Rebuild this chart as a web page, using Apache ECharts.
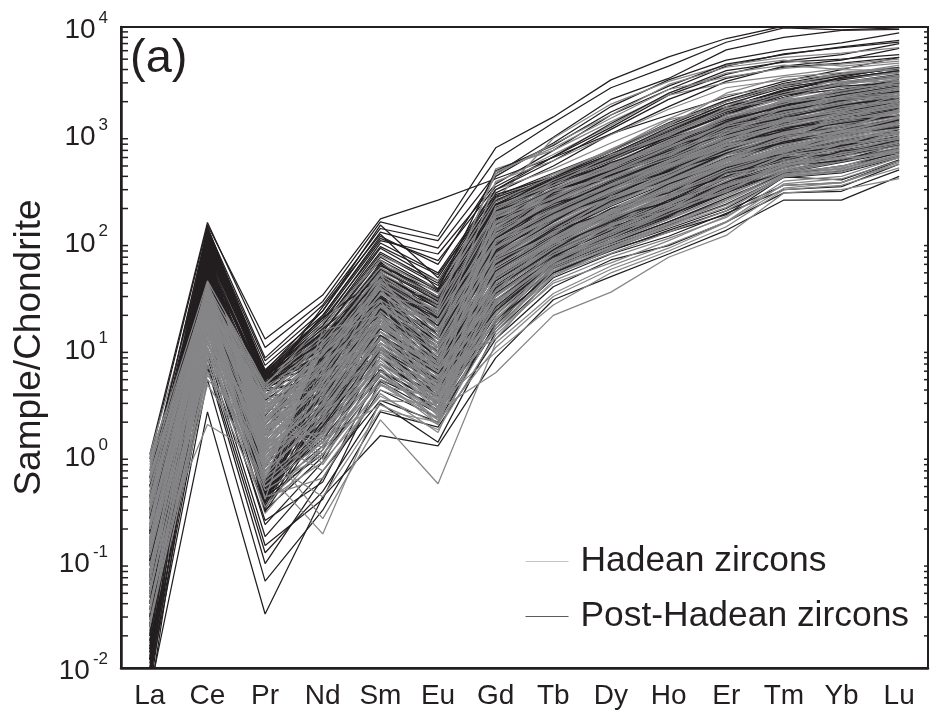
<!DOCTYPE html>
<html><head><meta charset="utf-8">
<style>html,body{margin:0;padding:0;background:#fff}#c{width:931px;height:720px}</style>
<script src="https://cdn.jsdelivr.net/npm/echarts@6/dist/echarts.min.js"></script>
</head><body><div id="c"></div>
<script>
const categories = ['La','Ce','Pr','Nd','Sm','Eu','Gd','Tb','Dy','Ho','Er','Tm','Yb','Lu'];
const minorTickValues = [2,3,4,5,6,7,8,9];
const decades = [0.01,0.1,1,10,100,1000];
const postHadean = [
[0.9,140,12,31,160,240,380,600,1000,1500,2200,3100,4000,5200],
[1.0,148,10,27,150,110,740,1440,3200,5250,7800,10200,11500,13000],
[0.6,130,8,25,130,100,570,1270,2700,4300,7200,9800,9400,9800],
[0.3,120,7.5,22,120,85,420,930,2100,3300,6100,8000,9300,9500],
[0.5,115,6.8,20,110,60,400,820,1800,3200,4900,6100,7100,8800],
[0.7,105,6.2,19,100,75,340,700,1500,2600,4300,5600,6400,7200],
[0.2,125,5.8,17,95,50,300,610,1150,2300,3600,4800,5500,7000],
[0.4,98,5.5,16,85,42,280,500,1000,1800,3100,4300,4900,6300],
[0.15,90,5.2,15,75,38,260,430,700,1270,2070,2970,3700,4200],
[0.35,85,5,14,70,35,240,400,680,1200,2000,2800,3500,4100],
[0.1,80,4.8,12,62,30,220,390,650,1100,1800,2500,3300,3900],
[0.25,75,4.5,11,55,28,200,360,600,1000,1700,2400,3000,3500],
[0.08,70,4.2,10,48,25,210,380,620,1050,1750,2600,3200,3800],
[0.3,66,4,9,44,20,180,340,560,950,1550,2200,2900,3400],
[0.05,62,3.6,8.5,40,18,170,300,500,850,1400,2000,2500,3000],
[0.12,58,3.2,7.6,36,16,150,270,470,800,1300,1900,2400,2900],
[0.06,55,2.8,7,33,22,140,250,420,720,1200,1700,2150,2600],
[0.18,50,2.5,6.5,30,14,125,230,400,690,1120,1600,2000,2500],
[0.04,48,2.2,6,27,13,110,210,360,600,1000,1450,1800,2200],
[0.09,45,2,5.5,24,12,100,190,330,550,930,1300,1700,2050],
[0.03,42,1.8,5,22,11,90,170,300,500,850,1200,1550,1900],
[0.07,40,1.5,4.6,20,10,85,160,280,470,800,1150,1450,1800],
[0.025,110,1.3,4.2,18,9,70,140,250,420,720,1000,1300,1600],
[0.02,95,1.2,3.8,16,8,62,130,230,390,660,950,1200,1500],
[0.015,88,1.1,3.4,15,7.2,55,115,210,350,600,850,1100,1400],
[0.045,78,1,3,14,6.5,50,105,190,320,550,790,1030,1300],
[0.013,72,0.9,2.8,12,6,45,95,175,290,500,720,950,1200],
[0.03,65,0.8,2.5,11,5.2,40,88,160,265,460,670,870,1100],
[0.011,60,0.7,2.2,10,4.8,35,80,145,240,420,620,800,1000],
[0.02,52,0.62,2,9,4.2,32,75,130,220,380,570,740,920],
[0.008,46,0.56,1.8,8,3.8,28,68,120,200,340,520,680,850],
[0.018,38,0.5,1.6,7,3.4,24,64,110,180,310,480,620,780],
[0.006,33,0.46,1.4,6.2,3,20,60,100,165,280,440,560,720],
[0.014,28,0.42,1.2,5.4,2.6,18,57,95,150,250,420,500,660],
[0.01,24,0.4,1,4.8,2.4,16,55,90,140,220,400,450,620],
[0.006,2.5,0.032,0.4,1.5,1.2,8,28,46,75,125,240,240,400],
[0.008,5,0.065,0.3,2.5,1.8,12,37,66,90,150,280,290,460],
[0.012,7,0.12,0.45,3,1.3,14,45,75,110,180,300,320,520],
[0.009,6.5,0.095,0.6,4,2.2,15,50,80,125,190,330,350,560],
[0.016,8,0.14,0.38,5,2.8,18,50,85,130,200,390,430,600],
[0.01,9,0.17,0.7,3.2,2,17,52,82,120,175,395,370,570],
[0.02,10,0.24,0.55,6,3,22,62,95,150,240,430,470,680],
[0.014,12,0.22,0.85,7,3.6,26,70,110,185,320,500,620,800],
[0.03,14,0.3,0.95,9,4,30,78,140,230,390,590,760,950],
[0.005,18,0.36,1.1,11,5,34,85,155,255,450,650,840,1050],
[0.04,100,0.5,1.3,13,5.5,42,98,180,300,520,760,980,1250],
[0.05,92,0.45,1.5,16,7,60,125,225,380,640,920,1180,1480],
[0.09,85,0.52,1.7,19,9,75,150,270,450,770,1100,1420,1750],
[0.13,74,0.42,1.9,22,10,88,175,310,530,900,1280,1620,2000],
[0.2,82,0.38,2.4,26,14,105,205,350,590,980,1420,1780,2150],
[0.28,68,0.48,3.2,30,16,130,240,410,700,1160,1650,2080,2550],
[0.38,60,0.6,4,35,20,155,280,480,820,1350,1960,2450,2950],
[0.6,57,0.75,5.5,40,24,190,350,590,980,1650,2350,2950,3450],
[0.22,52,5.6,12,45,26,215,375,640,1080,1780,2550,3250,3850],
[0.1,108,5.4,13,52,30,230,395,690,1220,2020,2850,3550,4050],
[0.07,118,5.1,10,58,33,195,355,590,1010,1680,2350,3050,3600],
[0.16,100,4.9,8,64,18,165,295,490,840,1380,1950,2550,3100],
[0.045,93,4.6,7,50,24,145,255,430,730,1210,1720,2200,2700],
[0.03,86,4.3,6,46,13,118,220,370,620,1030,1480,1850,2300],
[0.065,76,4.1,5,38,15,98,185,320,540,910,1320,1680,2100],
[0.024,69,3.9,5.2,28,11,82,155,270,460,780,1120,1430,1750],
[0.05,59,3.4,4.5,24,9,68,135,240,410,700,1010,1280,1620],
[0.017,54,3,3.5,20,7,52,110,200,335,580,830,1080,1360],
[0.035,47,2.6,3,17,6,44,92,170,285,490,710,930,1180],
[0.012,43,2.3,9,13,4.5,38,85,150,250,435,630,815,1040],
[0.028,39,1.9,11,10,3.5,30,76,125,210,355,530,700,870],
[0.012,35,1.6,13,8,3,26,66,115,190,325,500,650,810],
[0.19,31,1.35,15,6,2.5,23,62,105,170,290,455,580,740]
];
const postHadeanMixed = [
[0.11,135,5.9,18,88,48,270,395,640,1150,1900,2700,3300,3900],
[0.19,128,5.7,16,78,40,255,380,610,1020,1600,2300,2800,3000],
[0.08,122,5.3,14,66,34,235,370,580,930,1500,2500,3400,4200],
[0.3,112,5,12.5,60,29,215,350,520,900,1350,1800,2300,2700],
[0.14,104,4.7,11.5,54,27,205,320,540,780,1250,1650,2000,2300],
[0.06,96,4.4,10.5,50,23,190,290,450,760,1050,1900,2050,2400],
[0.1,89,0.55,9.8,47,21,175,300,410,640,1150,1500,1900,2100],
[0.04,83,0.5,9,43,19,160,240,440,690,980,1350,1600,2000],
[0.05,77,0.47,8.2,41,17,130,265,390,600,900,1250,1750,1950],
[0.03,71,0.44,7.4,37,15,120,210,345,580,860,1100,1500,1850],
[0.025,67,0.41,6.6,34,19,105,225,300,480,820,1050,1350,1700],
[0.02,63,0.38,5.8,31,12,95,180,315,440,700,1080,1250,1500],
[0.015,110,0.36,5,29,11,78,170,260,450,650,880,1350,1450],
[0.012,100,0.43,4.4,26,10,66,120,235,370,640,820,1000,1350],
[0.018,92,0.4,3.9,23,9,58,125,185,340,520,850,960,1200],
[0.022,84,0.37,3.3,21,8,48,100,200,280,480,660,1000,1150],
[0.009,70,0.35,2.9,18,7.5,42,90,150,270,400,640,760,1100],
[0.007,61,0.33,2.7,15,6.8,36,82,165,230,430,550,780,900],
[0.035,56,0.39,2.3,13,6.2,32,72,125,240,350,600,650,880],
[0.055,51,0.31,2.1,12,5.7,27,70,135,195,360,480,690,780],
[0.075,44,0.29,1.85,10,5,24,66,105,175,280,500,560,800],
[0.1,37,0.55,1.65,9.5,4.6,22,60,115,170,300,430,540,680],
[0.4,120,5.8,19,45,20,140,340,500,950,1500,2300,2600,3200],
[0.25,132,5.6,15,40,16,110,280,450,720,1300,1850,2300,2800],
[0.6,126,5.4,13.5,35,13,90,240,410,660,1200,1550,2100,2500],
[0.18,116,5.2,11,30,11,80,200,360,590,1100,1400,1850,2200],
[0.12,106,5,9.5,27,9,70,150,310,520,950,1300,1560,1900],
[0.09,101,4.8,8.5,23,8,60,130,260,460,750,1150,1300,1650],
[0.07,94,4.6,7.8,20,7,52,110,220,380,660,950,1150,1500],
[0.5,90,6,22,140,45,300,560,1100,2100,3300,4200,4600,5200],
[0.3,80,5,20,105,65,320,610,1250,2400,3900,4700,5000,5500],
[0.2,72,4.5,24,115,35,450,780,1600,2800,4500,5500,6500,7500]
];
const hadean = [
[1.0,70,5,14,60,36,250,420,680,1200,2400,3400,3750,4200],
[0.85,42,4.6,13,56,30,230,400,720,1240,2000,2900,3600,4100],
[0.7,40,4.2,12,52,28,240,910,1900,3100,4400,5200,5700,6400],
[0.6,38,4,11,50,26,420,800,1500,2900,4200,4900,4300,4800],
[0.9,37,3.6,10,46,24,350,640,1200,2400,3700,4400,4000,3900],
[0.55,36,3.3,9.5,44,22,200,370,610,1020,1720,2450,3050,3550],
[0.5,35,3,9,42,21,185,345,570,970,1600,2300,2850,3450],
[0.45,34,2.8,8.5,40,20,172,310,510,870,1430,2050,2550,3050],
[0.42,33,2.6,8,38,18,160,285,480,820,1340,1900,2400,2950],
[0.38,32,2.4,7.5,36,17,145,260,440,750,1240,1760,2250,2750],
[0.35,31,2.2,7,34,16,135,245,415,710,1170,1680,2100,2550],
[0.32,30,2,6.5,32,15,122,232,390,670,1100,1580,1980,2420],
[0.3,30,1.9,6,30,14,112,215,365,610,1020,1470,1830,2250],
[0.28,28,1.8,5.6,28,13,102,198,340,565,950,1350,1720,2100],
[0.26,27,1.7,5.2,26,12,94,178,310,515,870,1230,1580,1950],
[0.24,26,1.6,4.8,24,11,86,164,285,480,810,1160,1470,1830],
[0.22,25,1.5,4.5,22,10.5,78,150,265,445,755,1060,1370,1690],
[0.2,24,1.4,4.2,20,10,72,142,255,425,725,1020,1310,1620],
[0.18,23,1.3,4,19,9.5,64,132,235,395,670,960,1210,1520],
[0.17,22,1.2,3.7,18,9,58,120,215,360,610,870,1120,1420],
[0.16,21,1.1,3.5,17,8.5,54,110,198,330,565,810,1050,1330],
[0.15,20,1,3.3,16,8,48,100,182,305,525,745,975,1240],
[0.14,19,0.95,3.1,15,7.5,44,94,172,285,495,710,935,1180],
[0.13,18,0.9,2.9,14,7,40,90,162,270,465,680,880,1110],
[0.12,17,0.85,2.7,13,6.5,37,84,150,250,430,630,810,1020],
[0.11,16,0.8,2.5,12,6,33,78,136,225,385,575,750,930],
[0.1,15,0.75,2.3,11,5.6,30,72,124,205,345,525,690,860],
[0.09,14,0.7,2.1,10,5.2,27,66,114,190,320,495,640,800],
[0.08,13,0.65,1.9,9,4.8,24,62,106,172,290,460,585,745],
[0.07,12,0.6,1.7,8,4.4,21,60,100,160,270,435,550,700],
[0.06,11,0.55,1.5,7,4,20,56,92,145,240,410,480,640],
[0.05,10,0.5,1.3,6,3.6,17,48,76,120,190,395,440,610],
[0.045,9,0.48,1.1,5,3.2,14,40,62,100,170,330,350,540],
[0.04,8,0.46,1,4,2.6,5.8,20,33,70,112,280,300,380],
[0.03,4.5,0.7,0.18,3.2,3,9,25,50,80,135,300,330,480],
[0.035,5.5,1.2,0.25,2.1,0.53,11,32,58,92,150,340,380,560],
[0.1,1.9,0.9,0.4,2.6,2,10,30,54,85,148,310,350,520],
[0.028,6,0.32,1.4,2.9,1.7,13,42,70,105,165,360,400,600],
[0.05,7,0.36,0.85,3.5,1.9,16,46,84,135,205,410,470,640],
[0.07,9.5,0.4,0.6,4.5,2.1,19,54,88,142,230,420,500,690],
[0.09,12,0.28,1.2,5.5,2.4,22,58,98,158,260,450,560,720],
[0.12,15,0.55,1.6,7.5,2.7,26,64,108,178,300,480,610,770],
[0.16,18,0.68,2.2,8.5,3.1,28,70,118,195,330,510,665,830],
[0.2,22,0.78,2.8,9.5,3.4,31,74,128,215,365,550,720,890],
[0.27,26,0.88,3.4,10.5,3.7,35,82,142,235,400,600,780,970],
[0.33,30,1,4,12,4.2,39,90,158,260,445,640,830,1060],
[0.4,33,1.15,4.8,14,4.6,43,96,168,280,480,690,900,1150],
[0.48,37,1.25,5.4,15.5,5,47,104,185,310,530,755,990,1260],
[0.58,38,1.4,6.2,18,5.4,52,112,200,338,575,820,1070,1360],
[0.75,36,1.55,7,21,5.8,57,122,222,370,630,900,1160,1460],
[0.95,35,1.7,7.8,24,6.4,62,130,240,400,675,970,1250,1570],
[0.65,34,1.95,8.8,27,7,68,140,255,430,735,1040,1340,1670],
[0.5,32,2.1,9.6,31,7.8,76,152,275,465,790,1130,1440,1780],
[0.4,30,2.35,10.5,35,8.6,84,168,295,495,840,1190,1530,1880],
[0.3,28,2.55,6.8,39,9.4,92,180,315,530,895,1260,1620,1980],
[0.22,26,2.75,5.8,43,11,100,195,335,560,935,1330,1700,2080],
[0.18,25,2.95,4.9,47,12.5,108,208,358,600,995,1410,1790,2180],
[0.14,24,3.15,4.1,41,14.5,116,225,378,640,1060,1510,1900,2320],
[0.11,20,3.4,3.6,33,16,128,240,402,685,1130,1610,2020,2480],
[0.08,16,1.1,3,25,18,138,252,428,735,1210,1730,2180,2680],
[0.06,13,0.9,2.6,21,20,150,270,455,775,1280,1830,2320,2830],
[0.05,11,0.7,2.2,17,6,165,295,490,840,1385,1980,2520,3080],
[0.04,9,0.58,1.8,13,5,180,325,535,905,1500,2150,2700,3280],
[0.033,26,0.5,1.5,11,4,195,350,575,990,1640,2330,2940,3420],
[0.026,31,1.25,3.2,9,3.4,15,52,86,138,215,400,455,630],
[0.06,35,1.05,2.4,7,3,25,67,118,195,335,505,660,830],
[0.1,33,0.85,1.7,5.6,2.5,36,86,152,250,425,625,810,1010],
[0.15,36,2.9,1.3,4.6,2.2,50,108,192,322,550,790,1020,1290],
[0.25,39,2.2,2,6.6,1.9,74,148,262,445,755,1080,1370,1700],
[0.36,41,1.6,4.4,10,2.8,96,186,325,545,915,1300,1650,2020],
[0.02,21,1.35,7.4,23,8,120,232,395,665,1100,1570,1980,2430],
[0.024,17,1.08,5.1,20,6.8,88,172,305,510,865,1230,1570,1930],
[0.03,14,0.82,3.8,16,5.4,66,138,245,410,700,1005,1280,1610],
[0.037,11.5,0.62,2.6,12.5,4.3,46,98,178,295,510,730,955,1210],
[0.8,40,3.5,12,35,30,120,380,640,1100,1900,2300,3300,3700],
[0.62,36,2.7,9,31,23,440,740,1400,2600,3400,4100,4500,5000],
[0.44,33,2.1,8,28,17,470,700,1300,2300,3000,3500,4100,4600],
[0.36,29,1.6,6.4,25,12,360,560,980,1700,2700,3200,3600,4400],
[0.29,26,1.2,5,22,9,300,470,820,1380,2300,2800,3100,3300],
[0.23,23,0.9,3.9,19,7,210,330,500,780,1500,2000,2200,2400],
[0.18,20,0.7,2.9,16,5.5,180,250,460,660,1300,1700,1900,2700],
[0.14,18,0.95,2.3,14,4.5,150,290,390,590,1000,1750,2100,2200],
[0.11,15,1.15,1.9,12,3.8,125,190,360,500,950,1250,1800,1900],
[0.09,13,1.35,1.6,10,3.2,100,160,300,520,740,1300,1400,2000],
[0.07,11,1.65,1.4,9,2.8,80,175,240,440,800,950,1500,1600],
[0.055,9.5,1.9,1.25,8,2.5,65,115,260,350,640,1000,1100,1700],
[0.045,8.5,2.25,1.15,7,2.3,50,130,170,370,510,860,1200,1250],
[0.036,7.5,2.6,1,6,2.1,40,85,190,260,560,660,1050,1050],
[0.03,6.5,3.1,0.9,5,1.9,33,95,130,290,380,720,780,1150],
[0.025,5.8,3.8,0.8,4.4,3.4,27,62,145,190,420,520,820,900],
[0.02,5,1.45,0.7,3.7,1.6,23,72,100,210,290,560,600,950],
[0.3,38,2,7,48,7.5,130,290,520,800,1450,1900,2700,2900],
[0.25,36,1.4,8.2,42,5.5,95,200,430,620,1150,1500,1950,2600],
[0.21,34,1,9.2,37,4,68,170,300,540,860,1400,1600,2300],
[0.17,32,0.75,10.5,32,3.2,48,125,260,390,770,1100,1500,1800],
[0.13,30,0.58,11.5,28,2.6,34,105,190,350,580,950,1100,1650],
[0.1,28,0.46,13,24,2.2,26,80,165,250,520,700,1000,1200],
[0.08,26,0.38,14.5,20,3.6,18,64,120,220,360,640,720,1050],
[0.065,25,0.34,16,17,4.8,14,52,96,160,330,460,680,760],
[0.05,24,3.6,5.5,14,6.4,12,48,82,135,240,440,490,720],
[0.7,39,4.8,15,72,42,205,420,700,1350,1800,2900,3300,3800],
[0.55,37,4.4,17,65,32,175,330,640,950,1750,2100,3000,3150],
[0.45,35,3.9,13,55,27,140,300,470,880,1250,2100,2350,3000],
[0.34,33,3.4,11,48,21,110,235,430,640,1180,1500,2150,2300],
[0.28,31,3,9,41,19,90,195,330,590,860,1400,1520,2100],
[0.2,29,2.5,7.2,36,15,72,160,290,430,780,1000,1400,1500],
[0.15,27,2.1,5.8,30,12,58,118,230,380,560,940,1020,1400],
[0.12,24,1.7,4.6,25,10,46,100,165,300,500,680,930,1000],
[0.095,21,1.4,3.7,21,8,37,74,140,215,400,610,670,900],
[0.075,18.5,1.15,3,18,6.5,30,68,105,190,285,510,590,660]
];

const logTicks = decades.flatMap(d => minorTickValues.map(m => d * m));
const ink = '#231f20', gray = '#868688';
const lineSeries = (rows, name, color) => rows.map(r => ({
  name, type:'line', data:r, symbol:'none', showSymbol:false, silent:true,
  lineStyle:{color, width:1.25}, itemStyle:{color}, animation:false, clip:true,
  emphasis:{disabled:true}
}));
const tickSeries = (side) => ({
  type:'custom', silent:true, animation:false, clip:false, data:logTicks, z:5,
  coordinateSystem:'cartesian2d', xAxisIndex:0, yAxisIndex:0, encode:{y:0},
  renderItem:(p, api) => {
    const y = api.coord([0, api.value(0)])[1];
    const g = p.coordSys;
    const x0 = side === 'left' ? g.x : g.x + g.width;
    const len = side === 'left' ? 7 : -4;
    return {type:'line', shape:{x1:x0, y1:y, x2:x0 + len, y2:y}, style:{stroke:ink, lineWidth:1.5}};
  }
});
const chart = echarts.init(document.getElementById('c'));
const yLabelStyle = {
  color:ink, fontFamily:'Liberation Sans', fontSize:27, margin:13,
  formatter:v => {
    const e = Math.round(Math.log10(v));
    return `{a|10}{b|${e < 0 ? '-' + (-e) : e}}`;
  },
  rich:{a:{fontSize:28,lineHeight:35,fontFamily:'Liberation Sans',color:ink,verticalAlign:'bottom'},
        b:{fontSize:17,lineHeight:35,fontFamily:'Liberation Sans',color:ink,verticalAlign:'top',padding:[0,0,0,3]}}
};
chart.setOption({
  animation:false, backgroundColor:'#fff',
  title:{text:'(a)', left:125, top:31, textStyle:{fontFamily:'Liberation Sans',fontWeight:'normal',fontSize:47,color:ink}},
  legend:{
    data:[{name:'Hadean zircons',lineStyle:{color:'#c4c4c4',width:1},itemStyle:{opacity:0}},
          {name:'Post-Hadean zircons',lineStyle:{color:'#5c5c5c',width:1},itemStyle:{opacity:0}}],
    orient:'vertical', left:520, top:539,
    itemWidth:43, itemHeight:14, itemGap:20, selectedMode:false,
    textStyle:{fontFamily:'Liberation Sans',fontSize:35.4,color:ink,padding:[0,0,0,7]}
  },
  grid:{left:121, right:3, top:27, bottom:52, show:true, borderColor:ink, borderWidth:2, backgroundColor:'transparent', outerBoundsMode:'none'},
  xAxis:[
    {type:'category', data:categories, position:'bottom', boundaryGap:true,
     axisLine:{lineStyle:{color:ink,width:2.5}}, axisTick:{alignWithLabel:true,inside:true,length:13,lineStyle:{color:ink,width:1.5}},
     axisLabel:{color:ink,fontFamily:'Liberation Sans',fontSize:28,margin:14,interval:0}, splitLine:{show:false}},
    {type:'category', data:categories, position:'top', boundaryGap:true,
     axisLine:{lineStyle:{color:ink,width:2}}, axisTick:{alignWithLabel:true,inside:true,length:3,lineStyle:{color:ink,width:1}},
     axisLabel:{show:false}, splitLine:{show:false}}
  ],
  yAxis:[
    {type:'log', logBase:10, min:0.01, max:10000, position:'left',
     name:'Sample/Chondrite', nameLocation:'middle', nameGap:72,
     nameTextStyle:{fontFamily:'Liberation Sans',fontSize:37,color:ink},
     axisLine:{show:true,lineStyle:{color:ink,width:2.5}},
     axisTick:{inside:true,length:13,lineStyle:{color:ink,width:2}},
     minorTick:{show:false}, axisLabel:yLabelStyle, splitLine:{show:false}, minorSplitLine:{show:false}},
    {type:'log', logBase:10, min:0.01, max:10000, position:'right',
     axisLine:{show:true,lineStyle:{color:ink,width:2}},
     axisTick:{inside:true,length:6,lineStyle:{color:ink,width:1.5}},
     axisLabel:{show:false}, splitLine:{show:false}}
  ],
  series:[
    ...lineSeries(postHadean,'Post-Hadean zircons',ink),
    ...lineSeries(hadean.filter((r, i) => i % 2 === 0),'Hadean zircons',gray),
    ...lineSeries(postHadeanMixed,'Post-Hadean zircons',ink),
    ...lineSeries(hadean.filter((r, i) => i % 2 === 1),'Hadean zircons',gray),
    {...tickSeries('left')},
    {...tickSeries('right')}
  ]
});
</script></body></html>
